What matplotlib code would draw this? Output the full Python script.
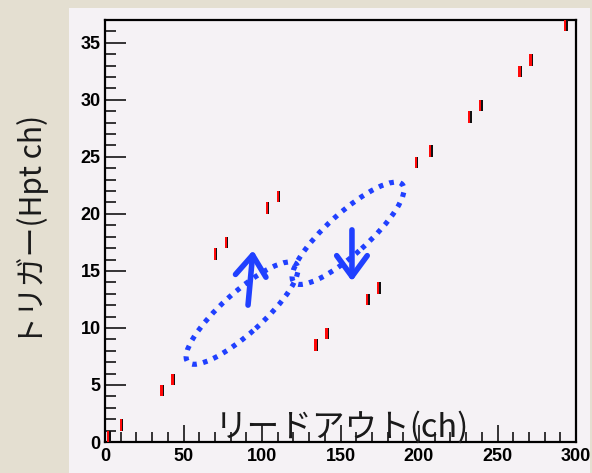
import matplotlib
matplotlib.use("Agg")
import matplotlib.pyplot as plt
from matplotlib.patches import Ellipse, Rectangle, FancyArrowPatch
from matplotlib.transforms import ScaledTranslation

# hit bins: bin centre in readout ch, lower edge in trigger ch
readout_ch = [2, 10, 36, 43, 70, 77, 103, 110, 134, 141,
              167, 174, 198, 207, 232, 239, 264, 271, 293]
trigger_ch = [0, 1, 4, 5, 16, 17, 20, 21, 8, 9,
              12, 13, 24, 25, 28, 29, 32, 33, 36]

# dotted ellipses (centre in data units) and arrows (start, end in data units)
ellipse_centres = [(87.3, 11.3), (154.8, 18.3)]
arrows = [((91.1, 12.0), (94.3, 16.8)), ((157.3, 18.6), (157.3, 14.1))]

xlabel = "リードアウト(ch)"
ylabel = "トリガー(Hpt ch)"

fig = plt.figure(figsize=(5.92, 4.73), dpi=100)
fig.patch.set_facecolor("#e4dfd1")
# ROOT canvas pad
fig.patches.append(Rectangle((69 / 592, 0), 521 / 592, 465 / 473,
                             transform=fig.transFigure, facecolor="#f5f2f5",
                             edgecolor="none", zorder=-10))

ax = fig.add_axes([105 / 592, 31 / 473, 471 / 592, 422 / 473])
ax.set_facecolor("#f5f2f5")
ax.set_xlim(0, 300)
ax.set_ylim(0, 37)

# red boxes with a dark edge on the right
ax.bar([x + 0.5 for x in readout_ch], 1, bottom=trigger_ch, width=2.2,
       align="center", color="#111111", zorder=3)
ax.bar(readout_ch, 1, bottom=trigger_ch, width=1.5,
       align="center", color="#ff0a0a", zorder=4)

blue = "#2040ff"
for cx, cy in ellipse_centres:
    tr = fig.dpi_scale_trans + ScaledTranslation(cx, cy, ax.transData)
    e = Ellipse((0, 0), 1.46, 0.41, angle=42, transform=tr, fill=False,
                edgecolor=blue, linewidth=3.7, linestyle=(0, (0.9, 1.25)), zorder=5)
    ax.add_patch(e)

for (x0, y0), (x1, y1) in arrows:
    a = FancyArrowPatch((x0, y0), (x1, y1),
                        arrowstyle="->,head_length=15,head_width=11",
                        color=blue, linewidth=4.0, mutation_scale=1,
                        shrinkA=0, shrinkB=0, zorder=6)
    ax.add_patch(a)

for s in ax.spines.values():
    s.set_linewidth(1.6)
    s.set_color("black")

ax.set_xticks(range(0, 301, 50))
ax.set_xticks(range(0, 301, 10), minor=True)
ax.set_yticks(range(0, 36, 5))
ax.set_yticks(range(0, 38, 1), minor=True)
ax.tick_params(which="both", direction="in", top=False, right=False, width=1.1)
ax.tick_params(axis="x", which="major", length=12.5, pad=4.5)
ax.tick_params(axis="x", which="minor", length=7)
ax.tick_params(axis="y", which="major", length=15, pad=3)
ax.tick_params(axis="y", which="minor", length=8)
for lab in ax.get_xticklabels() + ax.get_yticklabels():
    lab.set_fontfamily("Liberation Sans")
    lab.set_fontweight("bold")
    lab.set_fontsize(13)

jp = ["Noto Sans CJK JP", "DejaVu Sans"]
ax.text(0.502, 0.012, xlabel, transform=ax.transAxes, ha="center", va="baseline",
        fontsize=23.5, family=jp, color="#1a1a1a", zorder=7)
fig.text(33 / 592, 1 - 230 / 473, ylabel, rotation=90, ha="center", va="center",
         fontsize=21.5, family=jp, color="#1a1a1a")

fig.savefig("out.png", dpi=100, facecolor=fig.get_facecolor())
